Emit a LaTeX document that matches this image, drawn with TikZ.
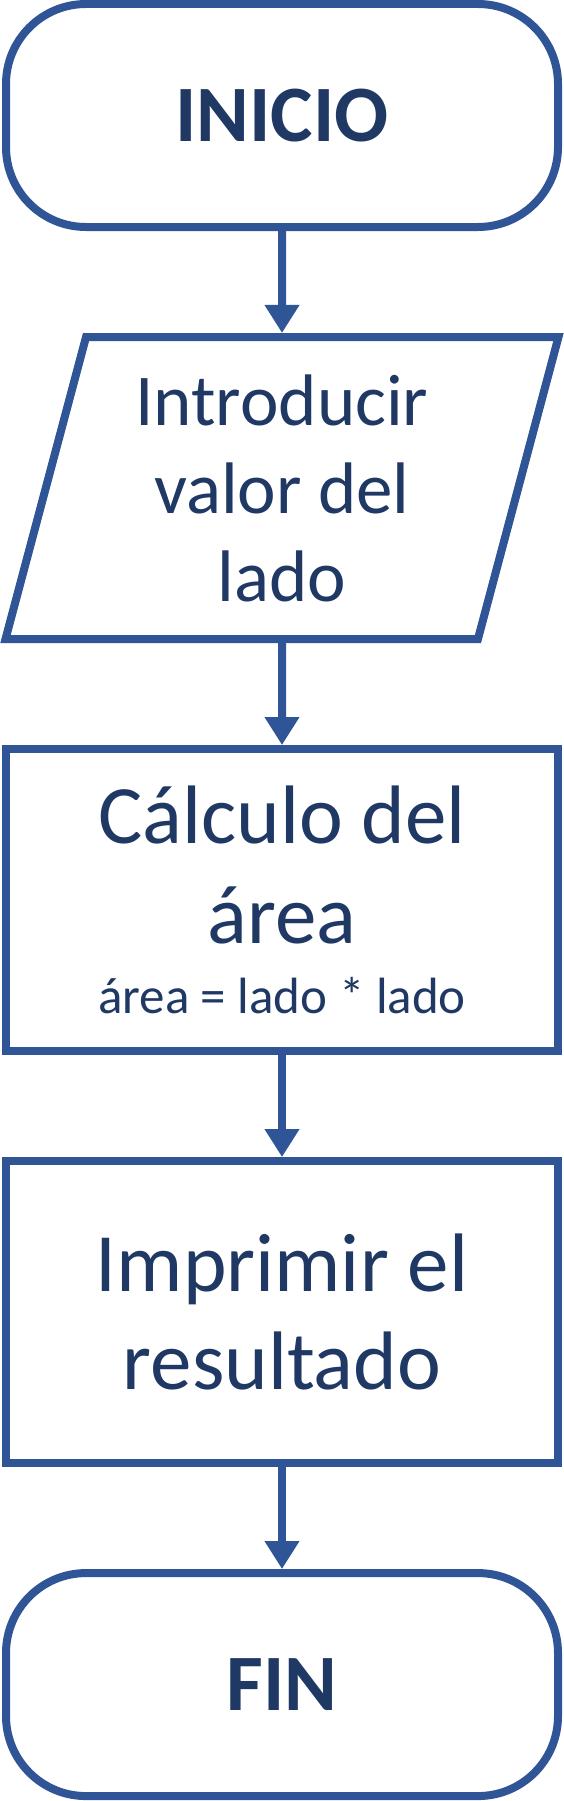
\documentclass[tikz,border=0pt]{standalone}
\usepackage{fontspec}
\setmainfont{Carlito}
\usepackage{xcolor}
\usepackage{tikz}
\usetikzlibrary{arrows.meta,positioning,shapes.geometric}
\definecolor{flowblue}{HTML}{2F5597}
\definecolor{flowtext}{HTML}{1F3864}

\begin{document}
\begin{tikzpicture}[
  x=1pt, y=1pt,
  node distance=102pt,
  every node/.style={text=flowtext, line width=8pt, draw=flowblue, align=center},
  terminal/.style={rounded corners=80pt, minimum width=552pt, minimum height=223pt,
                   font=\fontsize{80}{96}\selectfont\bfseries},
  inputbox/.style={trapezium, trapezium left angle=71, trapezium right angle=109,
                   trapezium stretches body, minimum width=553pt, minimum height=302pt,
                   font=\fontsize{73}{88}\selectfont},
  process/.style={minimum width=552pt, minimum height=302pt},
  arrow/.style={-{Triangle[length=28pt, width=33pt]}, line width=8pt, draw=flowblue}
]
\useasboundingbox (0,0) rectangle (564,-1801);

\node[terminal] (inicio) at (282,-115.5) {INICIO};
\node[inputbox, below=of inicio] (entrada) {Introducir\\valor del\\lado};
\node[process, below=of entrada, font=\fontsize{83}{100}\selectfont] (calculo)
  {Cálculo del\\área\\[-30pt]{\fontsize{51}{60}\selectfont área = lado * lado}};
\node[process, below=of calculo, font=\fontsize{83}{98}\selectfont] (imprimir)
  {Imprimir el\\resultado};
\node[terminal, below=of imprimir] (fin) {FIN};

\draw[arrow] (inicio) -- (entrada);
\draw[arrow] (entrada) -- (calculo);
\draw[arrow] (calculo) -- (imprimir);
\draw[arrow] (imprimir) -- (fin);
\end{tikzpicture}
\end{document}
